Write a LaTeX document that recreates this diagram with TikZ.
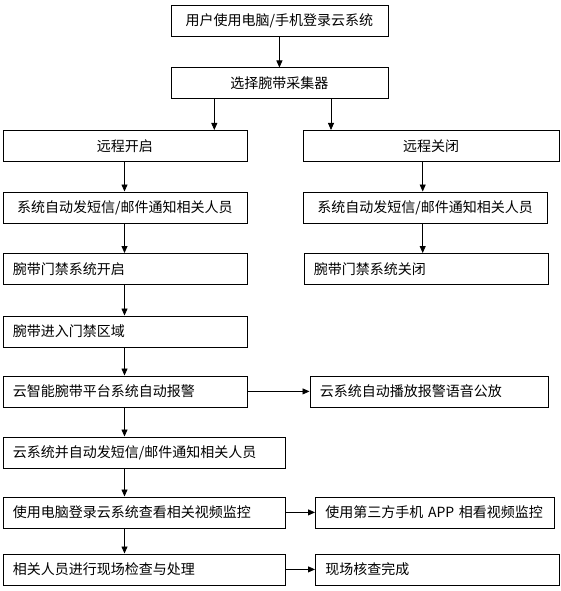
\documentclass[tikz,border=0pt]{standalone}
\usepackage{fontspec}
\newfontfamily\cjk{Noto Sans CJK SC}
\usetikzlibrary{arrows.meta}
\begin{document}
\begin{tikzpicture}[x=1pt,y=-1pt,
  box/.style={draw, line width=0.8pt, anchor=north west, minimum height=31pt,
    inner xsep=10pt, inner ysep=0pt, font=\cjk\fontsize{14}{16}\selectfont},
  cbox/.style={box, align=center},
  lbox/.style={box, align=left},
  arr/.style={draw, line width=0.8pt, -{Triangle[length=7pt,width=6pt]}}]
\useasboundingbox (0,0) rectangle (561,591);
\node[cbox, text width=197pt] (b1) at (170.5,5) {用户使用电脑/手机登录云系统};
\node[cbox, text width=197pt] (b2) at (170.5,67.5) {选择腕带采集器};
\node[cbox, text width=224pt] (L1) at (2.5,130) {远程开启};
\node[cbox, text width=236.5pt] (R1) at (302.5,130) {远程关闭};
\node[cbox, text width=224pt] (L2) at (2.5,191.5) {系统自动发短信/邮件通知相关人员};
\node[cbox, text width=224.5pt] (R2) at (302.5,191.5) {系统自动发短信/邮件通知相关人员};
\node[lbox, text width=224pt] (L3) at (2.5,253) {腕带门禁系统开启};
\node[lbox, text width=224pt] (R3) at (303.5,253) {腕带门禁系统关闭};
\node[lbox, text width=224pt] (L4) at (2.5,315.5) {腕带进入门禁区域};
\node[lbox, text width=224pt] (L5) at (2.5,375.5) {云智能腕带平台系统自动报警};
\node[lbox, text width=218pt] (R5) at (309.5,375.5) {云系统自动播放报警语音公放};
\node[lbox, text width=262pt] (L6) at (2.5,436.5) {云系统并自动发短信/邮件通知相关人员};
\node[lbox, text width=262pt] (L7) at (2.5,496.5) {使用电脑登录云系统查看相关视频监控};
\node[lbox, text width=218.5pt] (R7) at (315,496.5) {使用第三方手机 APP 相看视频监控};
\node[lbox, text width=262pt] (L8) at (2.5,553.5) {相关人员进行现场检查与处理};
\node[lbox, text width=224pt] (R8) at (315,553.5) {现场核查完成};
\coordinate (xa) at (214.3,0);
\coordinate (xb) at (331,0);
\coordinate (xc) at (124.5,0);
\coordinate (xr) at (422.7,0);
\draw[arr] (b1) -- (b2);
\draw[arr] (b2.south -| xa) -- (L1.north -| xa);
\draw[arr] (b2.south -| xb) -- (R1.north -| xb);
\draw[arr] (L1.south -| xc) -- (L2.north -| xc);
\draw[arr] (L2.south -| xc) -- (L3.north -| xc);
\draw[arr] (L3.south -| xc) -- (L4.north -| xc);
\draw[arr] (L4.south -| xc) -- (L5.north -| xc);
\draw[arr] (L5.south -| xc) -- (L6.north -| xc);
\draw[arr] (L6.south -| xc) -- (L7.north -| xc);
\draw[arr] (L7.south -| xc) -- (L8.north -| xc);
\draw[arr] (R1.south -| xr) -- (R2.north -| xr);
\draw[arr] (R2.south -| xr) -- (R3.north -| xr);
\draw[arr] (L5) -- (R5);
\draw[arr] (L7) -- (R7);
\draw[arr] (L8) -- (R8);
\end{tikzpicture}
\end{document}
